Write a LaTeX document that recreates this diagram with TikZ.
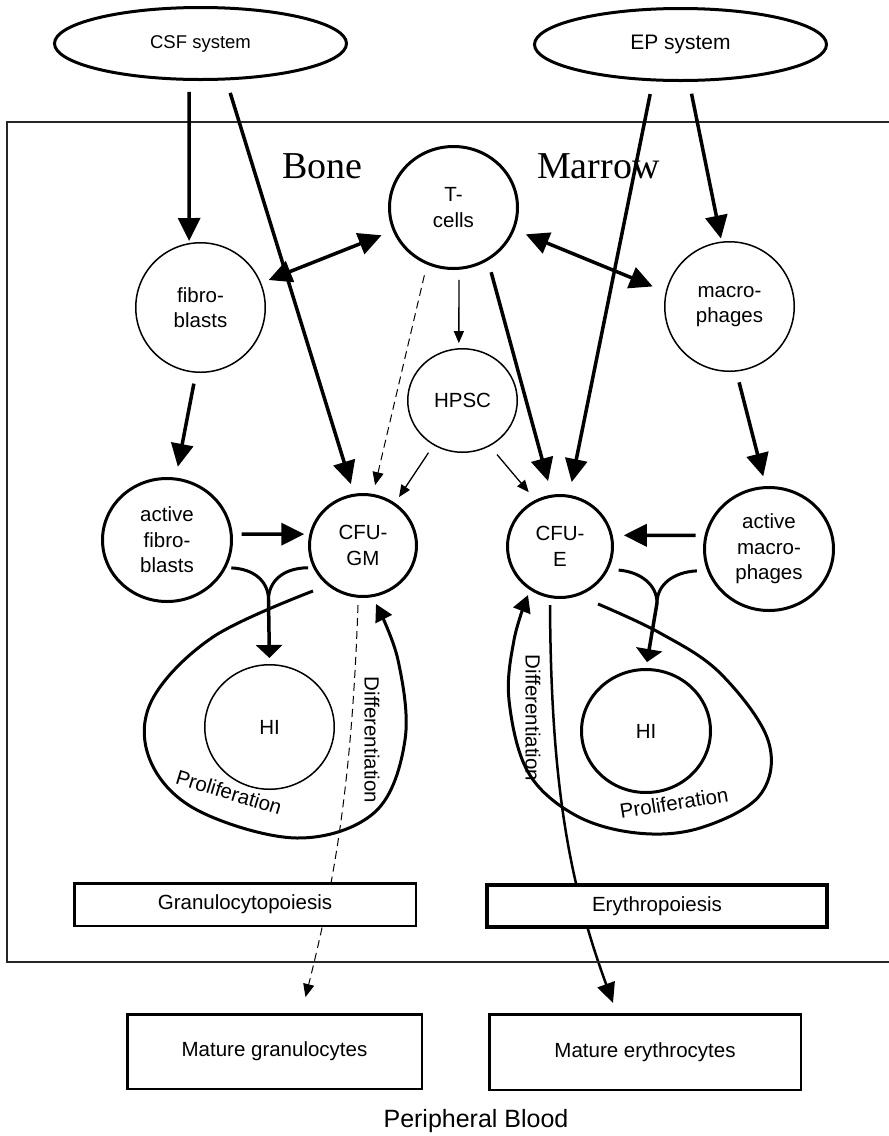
\documentclass[tikz,border=0pt]{standalone}
\usepackage{fontspec}
\setmainfont{Liberation Sans}
\newfontfamily\bmserif{Liberation Serif}
\usetikzlibrary{shapes.geometric,arrows.meta,calc,backgrounds}
\begin{document}
\begin{tikzpicture}[x=1pt,y=-1pt,
  cell/.style={ellipse, draw, inner sep=0pt, align=center, font=\fontsize{20.5}{25.5}\selectfont},
  thickcell/.style={cell, line width=3pt},
  thincell/.style={cell, line width=1.5pt},
  sysnode/.style={ellipse, draw, line width=3pt, inner sep=0pt, minimum width=292pt, minimum height=72pt},
  box/.style={draw, fill=white, inner sep=0pt, font=\fontsize{20.5}{25}\selectfont},
  big/.style={line width=3.5pt, -{Triangle[length=23pt,width=22pt]}},
  bigboth/.style={line width=3.5pt, {Triangle[length=23pt,width=22pt]}-{Triangle[length=23pt,width=22pt]}},
  small/.style={line width=1.3pt, -{Triangle[length=12pt,width=10pt]}},
  dashedarrow/.style={line width=1pt, dash pattern=on 8pt off 5pt, -{Triangle[length=13pt,width=11pt]}},
  yline/.style={line width=3pt},
  yarrow/.style={line width=3.5pt, -{Triangle[length=13pt,width=26pt]}},
  looparrow/.style={line width=3pt, -{Triangle[length=17pt,width=18pt]}},
  diffarrow/.style={line width=2.5pt, -{Triangle[length=20pt,width=18pt]}},
  lbl/.style={font=\fontsize{20.5}{25}\selectfont, inner sep=0pt},
  bmlabel/.style={anchor=base west, inner sep=0pt, font=\bmserif\fontsize{38}{40}\selectfont}
]
\useasboundingbox (0,0) rectangle (889,1136);

% bone marrow frame
\draw[line width=1.2pt, black!85] (895,122) -- (7,122) -- (7,962) -- (895,962);
\node[bmlabel] (bone) at (282,178) {Bone};
\node[bmlabel] (marrow) at (537,178) {Marrow};

% systems
\node[sysnode, font=\fontsize{18.5}{22}\selectfont] (csf) at (200.5,43.5) {CSF system};
\node[sysnode, font=\fontsize{21}{25}\selectfont] (ep) at (680.5,44.5) {EP system};

% cells
\node[thickcell, minimum width=128pt, minimum height=122pt] (tcells) at (453.5,207.5) {T-\\cells};
\node[thincell, minimum width=129.5pt, minimum height=129.5pt] (fibro) at (200.5,307.5) {fibro-\\blasts};
\node[thincell, minimum width=129.5pt, minimum height=129.5pt] (macro) at (729.5,306.5) {macro-\\phages};
\node[thincell, minimum width=109.5pt, minimum height=103.5pt] (hpsc) at (462.5,400.5) {HPSC};
\node[thickcell, minimum width=129pt, minimum height=123pt] (afibro) at (167,540) {active\\fibro-\\blasts};
\node[thickcell, minimum width=107pt, minimum height=102pt] (cfugm) at (363,545.5) {CFU-\\GM};
\node[thickcell, minimum width=105pt, minimum height=102pt] (cfue) at (560,546.5) {CFU-\\E};
\node[thickcell, minimum width=129pt, minimum height=123pt] (amacro) at (769,549) {active\\macro-\\phages};
\node[thincell, minimum width=129.5pt, minimum height=124.5pt] (hil) at (269.5,727) {HI};
\node[thickcell, minimum width=129pt, minimum height=123pt] (hir) at (646,731) {HI};

% boxes
\node[box, line width=2.5pt, minimum width=341.5pt, minimum height=42.5pt] (granbox) at (245,904.5) {Granulocytopoiesis};
\node[box, line width=4pt, minimum width=340pt, minimum height=42pt] (erybox) at (657,906) {Erythropoiesis};
\node[box, line width=2.5pt, minimum width=294.5pt, minimum height=74.5pt] (matgran) at (274.5,1051.5) {Mature granulocytes};
\node[box, line width=2.5pt, minimum width=311.5pt, minimum height=75.5pt] (materyth) at (645,1052) {Mature erythrocytes};
\node[lbl, font=\fontsize{25}{30}\selectfont] (pb) at (476,1121) {Peripheral Blood};

% labels
\node[lbl, rotate=-90] (diffl) at (372,740) {Differentiation};
\node[lbl, rotate=-90] (diffr) at (533,718) {Differentiation};
\node[lbl, rotate=-17] (prolifl) at (229,792) {Proliferation};
\node[lbl, rotate=9] (prolifr) at (674,803) {Proliferation};

% arrows
\draw[big, shorten <=11pt, shorten >=2pt] (csf.-107) -- (fibro.100);
\draw[big, shorten <=13pt, shorten >=10pt] (csf.-55) -- (cfugm.100);
\draw[bigboth, shorten <=8pt, shorten >=12pt] (fibro.22) -- (tcells.201);
\draw[big, shorten <=12pt, shorten >=3pt] (ep.-77) -- (macro.97);
\draw[big, shorten <=13pt, shorten >=13pt] (ep.-127) -- (cfue.80);
\draw[bigboth, shorten <=12pt, shorten >=14pt] (tcells.-20) -- (macro.167);
\draw[small, shorten <=10pt, shorten >=5pt] (tcells.-85) -- (hpsc.94);
\draw[big, shorten <=12pt, shorten >=14pt] (tcells.-57) -- (cfue.99);
\draw[dashedarrow, shorten <=11pt, shorten >=9pt] (tcells.-115) -- (cfugm.79);
\draw[small, shorten <=9pt, shorten >=7pt] (hpsc.-123) -- (cfugm.53);
\draw[small, shorten <=11pt, shorten >=10pt] (hpsc.-59) -- (cfue.118);
\draw[big, shorten <=11pt, shorten >=11pt] (fibro.-94) -- (afibro.82);
\draw[big, shorten <=11pt, shorten >=10pt] (macro.-84) -- (amacro.93);
\draw[big, shorten <=9pt, shorten >=5pt] (afibro.5) -- (cfugm.168);
\draw[big, shorten <=9pt, shorten >=11pt] (amacro.168) -- (cfue.12);

% Y-shaped merges
\coordinate (ymL) at (268.5,600);
\draw[yline, shorten <=5pt] (afibro.-25) .. controls (255,569) and (268.5,582) .. (ymL);
\draw[yline, shorten <=5pt] (cfugm.-156) .. controls (282,568) and (268.5,582) .. (ymL);
\draw[yarrow, shorten >=6pt] (ymL) -- (hil.north);
\coordinate (ymR) at (657,603);
\draw[yline, shorten <=10pt] (cfue.-25) .. controls (641,572) and (657,585) .. (ymR);
\draw[yline, shorten <=10pt] (amacro.-161) .. controls (673,572) and (657,585) .. (ymR);
\draw[yarrow, shorten >=6pt] (ymR) -- (hir.north);

% proliferation loops
\coordinate (lls) at ($(cfugm)+(-50,45.5)$);
\coordinate (lle) at ($(cfugm)+(13,58.5)$);
\draw[looparrow] plot[smooth, tension=0.6] coordinates {(lls) (213,637) (152,700) (150,760) (197,810) (297,838) (375,812) (405,740) (398,660) (lle)};
\coordinate (rls) at ($(cfue)+(38,57.5)$);
\coordinate (rle) at ($(cfue)+(-32,48.5)$);
\draw[looparrow] plot[smooth, tension=0.6] coordinates {(rls) (660,633) (720,673) (768,740) (760,795) (700,828) (637,833) (575,815) (528,772) (509,700) (514,640) (rle)};

% differentiation to peripheral blood
\begin{scope}[on background layer]
\draw[dashedarrow] ($(cfugm)+(-5,59.5)$) .. controls (352,780) and (335,880) .. ($(matgran.north)+(31,-16)$);
\draw[diffarrow] ($(cfue)+(-10,58.5)$) .. controls (551,780) and (568,880) .. ($(materyth.north)+(-32,-10)$);
\end{scope}
\end{tikzpicture}
\end{document}
